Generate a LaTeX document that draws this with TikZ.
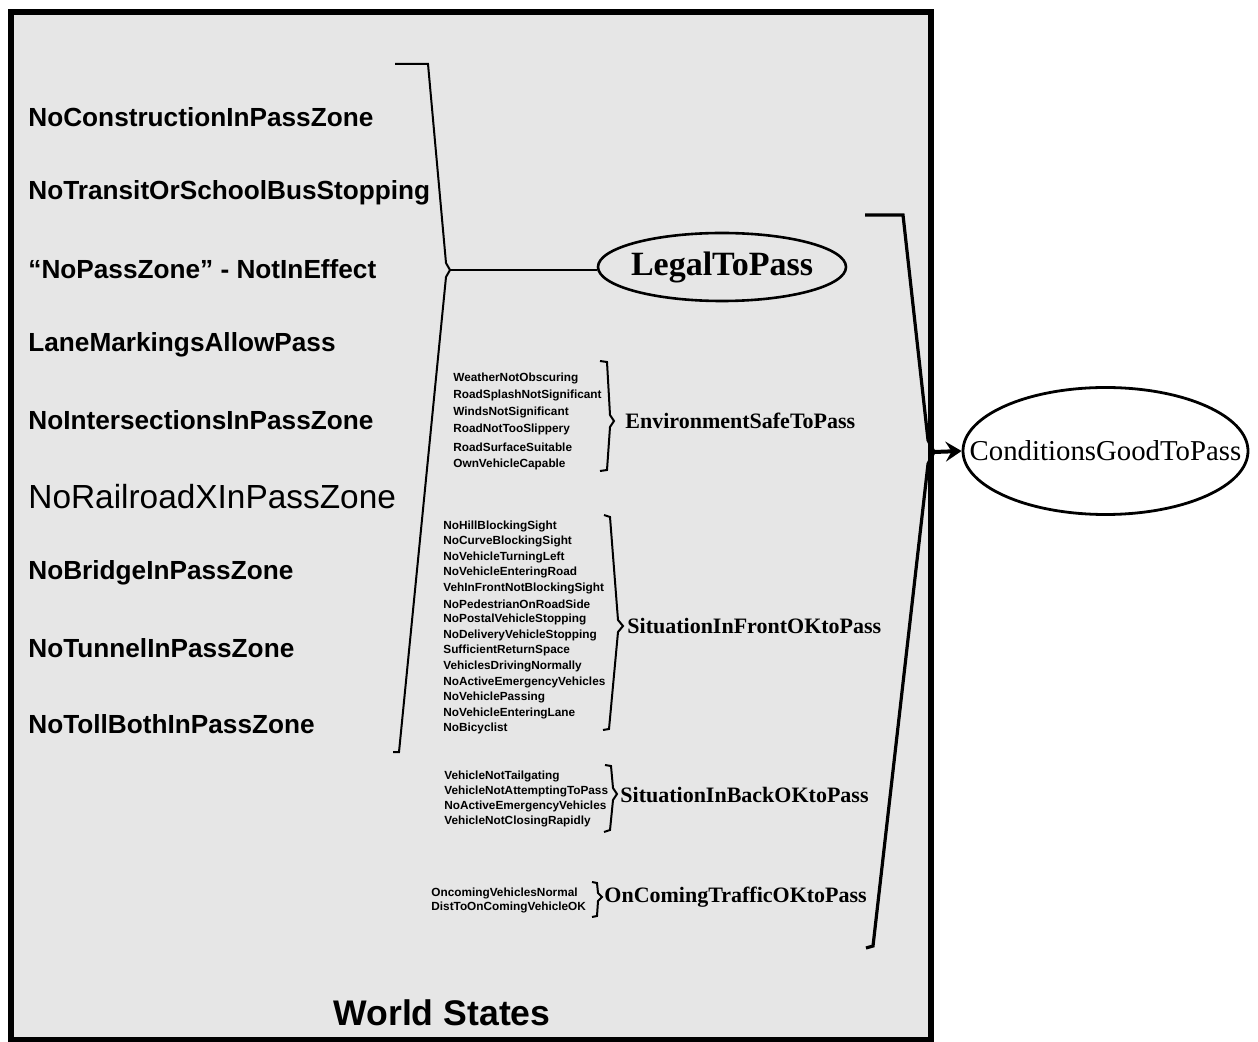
\documentclass[tikz,border=0pt]{standalone}
\usepackage{fontspec}
\setmainfont{Liberation Serif}
\setsansfont{Liberation Sans}
\usetikzlibrary{shapes}
\usetikzlibrary{arrows.meta}
\usetikzlibrary{positioning}
\definecolor{world gray}{HTML}{E6E6E6}

\begin{document}
\begin{tikzpicture}[x = 0.5pt, y = -0.5pt,
    state/.style = {anchor = west, inner sep = 0pt, font = \sffamily\bfseries\fontsize{13.1}{15}\selectfont},
    bigstate/.style = {anchor = west, inner sep = 0pt, font = \sffamily\fontsize{16.7}{19}\selectfont},
    substate/.style = {anchor = west, inner sep = 0pt, font = \sffamily\bfseries\fontsize{5.9}{7}\selectfont},
    goal/.style = {anchor = west, inner sep = 0pt, font = \rmfamily\bfseries\fontsize{11}{13}\selectfont},
    bracket/.style = {line width = 1pt, line join = miter},
    oval/.style = {ellipse, draw, inner xsep = -20pt, inner ysep = 0pt}]
  \useasboundingbox (0, 0) rectangle (1258, 1042);

  % world states frame
  \draw[line width = 2.8pt, fill = world gray] (11, 12) rectangle (931, 1040);
  \node[font = \sffamily\bfseries\fontsize{17.8}{20}\selectfont] (world) at (442, 1013) {World States};

  % legal conditions
  \foreach \txt/\sty [count = \i] in {NoConstructionInPassZone/state, %
      NoTransitOrSchoolBusStopping/state, “NoPassZone” - NotInEffect/state, %
      LaneMarkingsAllowPass/state, NoIntersectionsInPassZone/state, %
      NoRailroadXInPassZone/bigstate, NoBridgeInPassZone/state, %
      NoTunnelInPassZone/state, NoTollBothInPassZone/state} {
    \node[\sty] (s\i) at (28, 41 + \i*75.9) {\txt};
  }
  \draw[bracket] (395, 64) -- (428, 64) -- (446, 263) -- (450, 270) %
    -- (446, 277) -- (399, 752) -- (393, 752);
  \coordinate (s tip) at (450, 270);

  \node[oval, line width = 1.3pt, minimum width = 124pt, minimum height = 34pt, %
    font = \rmfamily\bfseries\fontsize{17}{19}\selectfont] (legal) at (722, 267) {LegalToPass};
  \draw[line width = 1pt] (s tip) -- (s tip -| legal.west);

  % environment
  \foreach \txt [count = \i] in {WeatherNotObscuring, RoadSplashNotSignificant, %
      WindsNotSignificant, RoadNotTooSlippery, RoadSurfaceSuitable, OwnVehicleCapable} {
    \node[substate] (env\i) at (453, 361 + \i*17.2) {\txt};
  }
  \draw[bracket] (600, 361) -- (607, 362) -- (610, 415) -- (614, 421) %
    -- (610, 427) -- (607, 470) -- (600, 471);
  \node[goal] (env) at (625, 421) {EnvironmentSafeToPass};

  % situation in front
  \foreach \txt [count = \i] in {NoHillBlockingSight, NoCurveBlockingSight, %
      NoVehicleTurningLeft, NoVehicleEnteringRoad, VehInFrontNotBlockingSight, %
      NoPedestrianOnRoadSide, NoPostalVehicleStopping, NoDeliveryVehicleStopping, %
      SufficientReturnSpace, VehiclesDrivingNormally, NoActiveEmergencyVehicles, %
      NoVehiclePassing, NoVehicleEnteringLane, NoBicyclist} {
    \node[substate] (front\i) at (443, 510.4 + \i*15.6) {\txt};
  }
  \draw[bracket] (604, 515) -- (610, 517) -- (618, 620) -- (623, 626) %
    -- (618, 632) -- (609, 729) -- (603, 730);
  \node[goal] (front) at (627, 626) {SituationInFrontOKtoPass};

  % situation in back
  \foreach \txt [count = \i] in {VehicleNotTailgating, VehicleNotAttemptingToPass, %
      NoActiveEmergencyVehicles, VehicleNotClosingRapidly} {
    \node[substate] (back\i) at (444, 760.7 + \i*15.3) {\txt};
  }
  \draw[bracket] (605, 765) -- (611, 766) -- (613, 788) -- (617, 794) %
    -- (613, 800) -- (610, 830) -- (604, 832);
  \node[goal] (back) at (620, 795) {SituationInBackOKtoPass};

  % oncoming traffic
  \foreach \txt [count = \i] in {OncomingVehiclesNormal, DistToOnComingVehicleOK} {
    \node[substate] (oncoming\i) at (431, 879 + \i*14) {\txt};
  }
  \draw[bracket] (592, 882) -- (597, 883) -- (598, 893) -- (602, 897) %
    -- (598, 901) -- (597, 916) -- (592, 917);
  \node[goal] (oncoming) at (604, 897) {OnComingTrafficOKtoPass};

  % overall conditions
  \draw[bracket, line width = 1.6pt] (865, 215) -- (903, 215) -- (928, 440) %
    -- (934, 452) -- (928, 464) -- (873, 946) -- (866, 948);
  \coordinate (all tip) at (934, 452);
  \node[oval, line width = 1.4pt, minimum width = 142.5pt, minimum height = 63.5pt, %
    font = \rmfamily\fontsize{14.4}{17}\selectfont] (good) at (1105.5, 451) {ConditionsGoodToPass};
  \draw[line width = 2pt, -{Stealth[length = 8pt, width = 10pt, inset = 3pt]}] (all tip) -- (good.west);
\end{tikzpicture}
\end{document}
